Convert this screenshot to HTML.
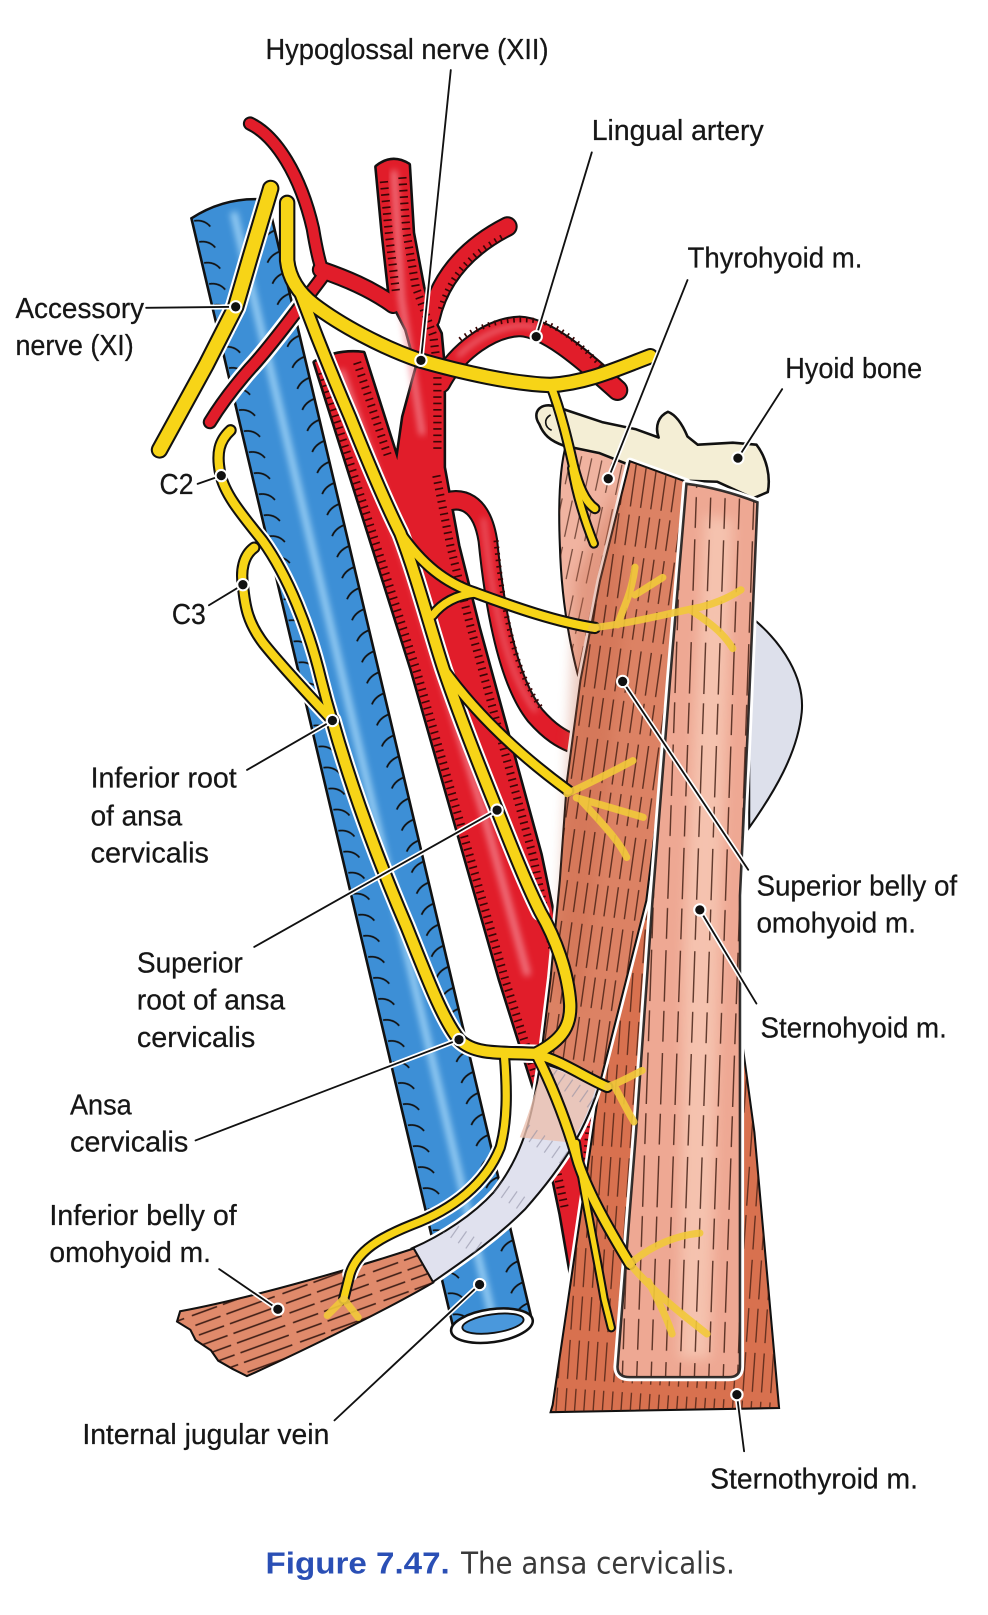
<!DOCTYPE html>
<html><head><meta charset="utf-8"><style>
html,body{margin:0;padding:0;background:#fff;}
svg{display:block;}
text{font-family:"Liberation Sans Narrow","Liberation Sans",sans-serif;font-size:28px;fill:#161616;stroke:#161616;stroke-width:0.25px;}
</style></head><body>
<svg width="988" height="1615" viewBox="0 0 960 1569" xmlns="http://www.w3.org/2000/svg">
<defs>
<filter id="bl" x="-20%" y="-20%" width="140%" height="140%"><feGaussianBlur stdDeviation="3"/></filter>
<filter id="bl2" x="-20%" y="-20%" width="140%" height="140%"><feGaussianBlur stdDeviation="6"/></filter>
<pattern id="pIJ" patternUnits="userSpaceOnUse" width="300" height="21" patternTransform="translate(186,212) rotate(-13.3)">
<path d="M2,3 q10,1 14,9" stroke="#111" stroke-width="1.7" fill="none"/>
<path d="M77,9 q-10,1 -15,8" stroke="#111" stroke-width="1.7" fill="none"/>
</pattern>
<pattern id="pTH" patternUnits="userSpaceOnUse" width="10" height="90" patternTransform="rotate(12)"><path d="M5,0V90" stroke="#3a170c" stroke-width="1.1" stroke-dasharray="36 10 30 14"/></pattern>
<pattern id="pSB" patternUnits="userSpaceOnUse" width="10" height="90" patternTransform="rotate(8)"><path d="M5,0V90" stroke="#3a170c" stroke-width="1.3" stroke-dasharray="42 8 30 10"/></pattern>
<pattern id="pSH" patternUnits="userSpaceOnUse" width="14" height="100" patternTransform="rotate(2)"><path d="M7,0V100" stroke="#3a170c" stroke-width="1.3" stroke-dasharray="50 9 30 11"/></pattern>
<pattern id="pST" patternUnits="userSpaceOnUse" width="9" height="90" patternTransform="rotate(4)"><path d="M4.5,0V90" stroke="#3a170c" stroke-width="1.2" stroke-dasharray="38 9 33 10"/></pattern>
<pattern id="pIB" patternUnits="userSpaceOnUse" width="10" height="90" patternTransform="rotate(70)"><path d="M5,0V90" stroke="#2a100a" stroke-width="1.6" stroke-dasharray="50 6 26 8"/></pattern>
<pattern id="pTD" patternUnits="userSpaceOnUse" width="9" height="60" patternTransform="rotate(35)"><path d="M4.5,0V60" stroke="#8a8aa0" stroke-width="1" stroke-dasharray="14 46"/></pattern>
</defs>

<!-- ===== Internal jugular vein (blue) ===== -->
<path d="M186,212 Q220,190 260,194 L517,1283 L440,1288 Z" fill="#3d8fd6" stroke="#111" stroke-width="2.5"/>
<path d="M227,206 L479,1282" stroke="#a6d8f8" stroke-width="7" opacity=".85" filter="url(#bl)"/>
<path d="M186,212 Q220,190 260,194 L517,1283 L440,1288 Z" fill="url(#pIJ)"/>
<ellipse cx="478" cy="1288" rx="40" ry="16" transform="rotate(-8 478 1288)" fill="#fff" stroke="#111" stroke-width="2.5"/>
<ellipse cx="479" cy="1286" rx="30" ry="9" transform="rotate(-8 479 1286)" fill="#4a98dc" stroke="#111" stroke-width="1.8"/>

<!-- ===== Arteries (red) ===== -->
<g stroke-linecap="round" fill="none">
<path d="M314,268 C290,300 260,340 243,358 C228,375 215,392 204,410" stroke="#fff" stroke-width="19"/>
<!-- outlines -->
<path d="M306,352 Q328,340 353,343 L386,447 L392,405 L405,357 L395,320 L379,289 L372,226 L366,162 Q381,150 397,160 L401,226 L411,279 L418,304 L428,324 L431,357 L431,454 L445,530 L465,610 L495,720 L525,830 L548,940 L583,1070 L575,1160 L556,1244 L545,1180 L520,1060 L486,952 L400,650 Z" fill="#111" stroke="#111" stroke-width="5" stroke-linejoin="round"/>
<path d="M243,120 C268,132 292,170 304,222 C307,240 310,255 314,265" stroke="#111" stroke-width="14"/>
<path d="M312,262 C335,270 360,280 382,296" stroke="#111" stroke-width="18"/>
<path d="M314,268 C290,300 260,340 243,358 C228,375 215,392 204,410" stroke="#111" stroke-width="14"/>
<path d="M428,372 C445,340 478,318 505,317 C530,318 562,345 600,379" stroke="#111" stroke-width="21"/>
<path d="M418,310 C426,275 448,243 493,220" stroke="#111" stroke-width="20"/>
<path d="M428,490 C448,480 468,488 474,525 C480,585 492,660 520,695 C535,712 546,718 556,722" stroke="#111" stroke-width="20"/>
<!-- fills -->
<path d="M306,352 Q328,340 353,343 L386,447 L392,405 L405,357 L395,320 L379,289 L372,226 L366,162 Q381,150 397,160 L401,226 L411,279 L418,304 L428,324 L431,357 L431,454 L445,530 L465,610 L495,720 L525,830 L548,940 L583,1070 L575,1160 L556,1244 L545,1180 L520,1060 L486,952 L400,650 Z" fill="#e11d2a" stroke="none"/>
<path d="M243,120 C268,132 292,170 304,222 C307,240 310,255 314,265" stroke="#e11d2a" stroke-width="10"/>
<path d="M312,262 C335,270 360,280 382,296" stroke="#e11d2a" stroke-width="14"/>
<path d="M314,268 C290,300 260,340 243,358 C228,375 215,392 204,410" stroke="#e11d2a" stroke-width="10"/>
<path d="M428,372 C445,340 478,318 505,317 C530,318 562,345 600,379" stroke="#e11d2a" stroke-width="17"/>
<path d="M418,310 C426,275 448,243 493,220" stroke="#e11d2a" stroke-width="16"/>
<path d="M428,490 C448,480 468,488 474,525 C480,585 492,660 520,695 C535,712 546,718 556,722" stroke="#e11d2a" stroke-width="16"/>
<!-- highlights -->
<path d="M332,362 L400,560 L470,790 L512,945" stroke="#f6929c" stroke-width="7" opacity=".75" filter="url(#bl)"/>
<path d="M383,168 L390,290 L410,420" stroke="#f6929c" stroke-width="6" opacity=".75" filter="url(#bl)"/>
<path d="M446,345 C470,322 500,312 520,318" stroke="#f6929c" stroke-width="4" opacity=".7" filter="url(#bl)"/>
<path d="M470,505 C478,580 490,650 520,690" stroke="#f6929c" stroke-width="4" opacity=".6" filter="url(#bl)"/>
<!-- hatch ticks -->
<g stroke="#3a0505" stroke-width="8" stroke-dasharray="1.6 4.6" stroke-linecap="butt">
<path d="M312,362 L405,652 L491,952 L525,1060 L549,1175"/>
<path d="M424,462 L438,532 L458,612 L488,722 L518,832 L541,942 L575,1068 L568,1160"/>
<path d="M373,176 L378,228 L385,286"/>
<path d="M391,172 L395,226 L404,279 L421,326 L425,358 L425,440"/>
<path d="M347,352 L378,446"/>
<path d="M447,330 C470,312 500,308 525,312 C550,320 570,340 596,368" stroke-width="5"/>
<path d="M428,300 C436,270 455,248 488,230" stroke-width="5"/>
<path d="M482,525 C488,585 498,650 526,688" stroke-width="5"/>
</g>
</g>

<!-- ===== Muscles ===== -->
<!-- thyrohyoid -->
<path d="M550,432 L612,446 L598,530 L585,610 L576,700 C560,660 546,600 544,530 C542,480 545,450 550,432 Z" fill="#f0b3a0" stroke="#111" stroke-width="2"/>
<path d="M550,432 L612,446 L598,530 L585,610 L576,700 C560,660 546,600 544,530 C542,480 545,450 550,432 Z" fill="url(#pTH)" opacity=".75"/>
<!-- hyoid bone -->
<path d="M524,412 C516,400 526,390 540,395 L585,410 L618,417 L640,425 C636,414 640,404 649,400 C657,403 663,412 668,424 L678,432 L712,430 L735,432 C745,445 749,463 746,478 L732,484 L697,468 L668,467 L620,455 L582,440 L548,433 C534,428 528,422 524,412 Z" fill="#f4eed5" stroke="#111" stroke-width="2.5" stroke-linejoin="round"/>
<path d="M535,403 C528,407 529,415 536,418" stroke="#111" stroke-width="1.6" fill="none"/>
<!-- sternothyroid -->
<path d="M630,870 L662,878 L718,990 L733,1100 L757,1368 L535,1372 L537,1365 L583,1052 Z" fill="#d8714f" stroke="#fff" stroke-width="7" stroke-linejoin="round"/>
<path d="M630,870 L662,878 L718,990 L733,1100 L757,1368 L535,1372 L537,1365 L583,1052 Z" fill="#d8714f" stroke="#111" stroke-width="2"/>
<path d="M630,870 L662,878 L718,990 L733,1100 L757,1368 L535,1372 L537,1365 L583,1052 Z" fill="url(#pST)" opacity=".8"/>
<!-- superior belly of omohyoid -->
<path d="M612,448 L667,468 L660,560 L651,661 L641,770 L628,875 L583,1052 L525,1032 L535,950 L544,855 L551,758 L564,661 L583,564 Z" fill="#dc8264" stroke="#fff" stroke-width="7" stroke-linejoin="round"/>
<path d="M612,448 L667,468 L660,560 L651,661 L641,770 L628,875 L583,1052 L525,1032 L535,950 L544,855 L551,758 L564,661 L583,564 Z" fill="#dc8264" stroke="#111" stroke-width="2"/>
<path d="M560,560 L600,470 L605,620 L565,980 L540,960 Z" fill="#c9684a" opacity=".35" filter="url(#bl2)"/>
<path d="M612,448 L667,468 L660,560 L651,661 L641,770 L628,875 L583,1052 L525,1032 L535,950 L544,855 L551,758 L564,661 L583,564 Z" fill="url(#pSB)" opacity=".8"/>
<!-- thyroid cartilage bulge -->
<path d="M728,598 C762,625 782,660 779,692 C775,732 752,770 728,804 Z" fill="#dde0eb" stroke="#111" stroke-width="2"/>
<!-- sternohyoid -->
<path d="M667,470 Q700,474 736,488 L727,700 L719,870 L719,1328 Q719,1338 708,1338 L612,1338 Q600,1338 600,1328 L618,1100 L634,875 L651,661 Z" fill="#eea893" stroke="#fff" stroke-width="8" stroke-linejoin="round"/>
<path d="M667,470 Q700,474 736,488 L727,700 L719,870 L719,1328 Q719,1338 708,1338 L612,1338 Q600,1338 600,1328 L618,1100 L634,875 L651,661 Z" fill="#eea893"/>
<path d="M685,500 L712,505 L700,900 L690,1320 L660,1320 L665,900 Z" fill="#f7c9b6" opacity=".8" filter="url(#bl2)"/>
<path d="M667,470 Q700,474 736,488 L727,700 L719,870 L719,1328 Q719,1338 708,1338 L612,1338 Q600,1338 600,1328 L618,1100 L634,875 L651,661 Z" fill="url(#pSH)" opacity=".85" stroke="#111" stroke-width="2.5"/>
<!-- intermediate tendon -->
<path d="M525,1032 L583,1052 C570,1095 550,1130 510,1175 C480,1205 450,1225 420,1246 L400,1213 C430,1200 460,1180 480,1158 C510,1120 518,1080 525,1032 Z" fill="#e0e1ee" stroke="#fff" stroke-width="7" stroke-linejoin="round"/>
<path d="M525,1032 L583,1052 C570,1095 550,1130 510,1175 C480,1205 450,1225 420,1246 L400,1213 C430,1200 460,1180 480,1158 C510,1120 518,1080 525,1032 Z" fill="#e0e1ee" stroke="#111" stroke-width="2"/>
<path d="M528,1035 L580,1053 C572,1080 565,1095 555,1110 L505,1105 C515,1080 520,1060 528,1035 Z" fill="#ebbfae" opacity=".8"/>
<path d="M525,1032 L583,1052 C570,1095 550,1130 510,1175 C480,1205 450,1225 420,1246 L400,1213 C430,1200 460,1180 480,1158 C510,1120 518,1080 525,1032 Z" fill="url(#pTD)" opacity=".7"/>
<!-- inferior belly -->
<path d="M402,1213 C350,1230 250,1260 175,1274 L172,1284 L185,1292 L190,1302 L205,1312 L212,1322 L226,1330 L240,1337 C300,1310 380,1270 421,1246 Z" fill="#e08a6b" stroke="#111" stroke-width="2"/>
<path d="M402,1213 C350,1230 250,1260 175,1274 L172,1284 L185,1292 L190,1302 L205,1312 L212,1322 L226,1330 L240,1337 C300,1310 380,1270 421,1246 Z" fill="url(#pIB)" opacity=".85"/>

<!-- ===== Nerves (yellow) ===== -->
<g fill="none" stroke-linecap="round" stroke-linejoin="round">
<g stroke="#fff">
<path d="M263,183 L243,250 L229,298 L200,355 L155,437" stroke-width="21"/>
<path d="M292,285 C305,320 325,370 340,405 C358,450 375,490 389,518 C405,560 418,610 431,650 C448,700 466,745 483,787 C498,825 512,860 525,886" stroke-width="18"/>
<path d="M224,418 C213,428 210,440 214,460 C218,480 235,500 255,525 C280,560 300,610 312,660 C317,680 320,690 323,700" stroke-width="16"/>
<path d="M247,532 C236,540 234,555 236,568 C238,590 241,605 256,625 C276,650 300,675 323,700" stroke-width="16"/>
<path d="M323,700 C340,760 365,830 395,900 C415,950 430,990 446,1010 C462,1026 490,1022 522,1024" stroke-width="18"/>
<path d="M490,1024 C493,1060 493,1090 486,1115 C472,1150 440,1175 400,1190 C370,1202 347,1215 340,1238" stroke-width="15"/>
</g>
<g stroke="#111">
<path d="M263,183 L243,250 L229,298 L200,355 L155,437" stroke-width="17"/>
<path d="M279,197 L279,253 C281,272 292,286 305,296 C330,315 370,337 408,350 C450,362 500,373 535,374 C570,372 600,358 632,346" stroke-width="16"/>
<path d="M292,285 C305,320 325,370 340,405 C358,450 375,490 389,518 C405,560 418,610 431,650 C448,700 466,745 483,787 C498,825 512,860 525,886 C540,912 552,945 554,975 C555,995 548,1010 520,1024" stroke-width="14"/>
<path d="M389,518 C410,548 432,566 462,576 C500,590 540,604 578,610" stroke-width="12"/>
<path d="M420,598 C430,585 445,578 462,576" stroke-width="11"/>
<path d="M431,650 C460,690 500,730 552,768" stroke-width="12"/>
<path d="M535,374 C545,400 552,430 557,452 C562,472 568,487 578,494" stroke-width="11"/>
<path d="M556,455 C560,480 568,505 577,528" stroke-width="10"/>
<path d="M224,418 C213,428 210,440 214,460 C218,480 235,500 255,525 C280,560 300,610 312,660 C317,680 320,690 323,700" stroke-width="12"/>
<path d="M247,532 C236,540 234,555 236,568 C238,590 241,605 256,625 C276,650 300,675 323,700" stroke-width="12"/>
<path d="M323,700 C340,760 365,830 395,900 C415,950 430,990 446,1010 C462,1026 490,1022 522,1024" stroke-width="14"/>
<path d="M490,1024 C493,1060 493,1090 486,1115 C472,1150 440,1175 400,1190 C370,1202 347,1215 340,1238 L334,1262" stroke-width="11"/>
<path d="M520,1024 C545,1030 565,1045 590,1056" stroke-width="12"/>
<path d="M522,1026 C538,1058 552,1095 562,1130 C572,1160 592,1195 612,1228" stroke-width="12"/>
<path d="M560,1110 C567,1160 578,1210 587,1262 L594,1290" stroke-width="9"/>
</g>
<g stroke="#f7d417">
<path d="M263,183 L243,250 L229,298 L200,355 L155,437" stroke-width="13"/>
<path d="M279,197 L279,253 C281,272 292,286 305,296 C330,315 370,337 408,350 C450,362 500,373 535,374 C570,372 600,358 632,346" stroke-width="12"/>
<path d="M292,285 C305,320 325,370 340,405 C358,450 375,490 389,518 C405,560 418,610 431,650 C448,700 466,745 483,787 C498,825 512,860 525,886 C540,912 552,945 554,975 C555,995 548,1010 520,1024" stroke-width="10"/>
<path d="M389,518 C410,548 432,566 462,576 C500,590 540,604 578,610" stroke-width="8"/>
<path d="M420,598 C430,585 445,578 462,576" stroke-width="7"/>
<path d="M431,650 C460,690 500,730 552,768" stroke-width="8"/>
<path d="M535,374 C545,400 552,430 557,452 C562,472 568,487 578,494" stroke-width="7"/>
<path d="M556,455 C560,480 568,505 577,528" stroke-width="6"/>
<path d="M224,418 C213,428 210,440 214,460 C218,480 235,500 255,525 C280,560 300,610 312,660 C317,680 320,690 323,700" stroke-width="8"/>
<path d="M247,532 C236,540 234,555 236,568 C238,590 241,605 256,625 C276,650 300,675 323,700" stroke-width="8"/>
<path d="M323,700 C340,760 365,830 395,900 C415,950 430,990 446,1010 C462,1026 490,1022 522,1024" stroke-width="10"/>
<path d="M490,1024 C493,1060 493,1090 486,1115 C472,1150 440,1175 400,1190 C370,1202 347,1215 340,1238 L334,1262" stroke-width="7"/>
<path d="M520,1024 C545,1030 565,1045 590,1056" stroke-width="8"/>
<path d="M522,1026 C538,1058 552,1095 562,1130 C572,1160 592,1195 612,1228" stroke-width="8"/>
<path d="M560,1110 C567,1160 578,1210 587,1262 L594,1290" stroke-width="5"/>
</g>
<!-- branches within muscles -->
<g stroke="#f2c93a" stroke-width="7" opacity=".9">
<path d="M575,610 C610,606 640,598 680,590 C700,585 712,578 720,573"/>
<path d="M600,607 C606,590 614,575 617,551"/>
<path d="M617,578 L644,561"/>
<path d="M670,592 C690,605 703,615 712,630"/>
<path d="M551,771 C575,760 598,748 615,739"/>
<path d="M560,775 C585,782 605,788 625,794"/>
<path d="M565,778 C585,800 600,815 609,833"/>
<path d="M590,1056 C602,1052 612,1046 624,1040"/>
<path d="M598,1057 C605,1070 610,1080 616,1090"/>
<path d="M612,1228 C635,1208 660,1200 680,1198"/>
<path d="M612,1228 C635,1255 660,1275 687,1296"/>
<path d="M630,1245 C640,1265 648,1280 653,1296"/>
<path d="M334,1262 L318,1278"/>
<path d="M334,1262 L348,1280"/>
</g>
</g>

<!-- ===== Leader lines ===== -->
<g stroke-linecap="round">
<g stroke="#fff" stroke-width="5">
<path d="M438,68 L409,350"/><path d="M575,148 L521,327"/><path d="M668,272 L591,465"/>
<path d="M760,378 L717,445"/><path d="M142,299 L229,298"/><path d="M192,470 L215,462"/>
<path d="M203,588 L236,568"/><path d="M240,748 L323,700"/><path d="M247,920 L483,787"/>
<path d="M190,1108 L446,1010"/><path d="M213,1233 L270,1272"/><path d="M325,1380 L466,1248"/>
<path d="M727,845 L605,662"/><path d="M735,975 L680,884"/><path d="M723,1410 L716,1355"/>
</g>
<g stroke="#111" stroke-width="1.8">
<path d="M438,68 L409,350"/><path d="M575,148 L521,327"/><path d="M668,272 L591,465"/>
<path d="M760,378 L717,445"/><path d="M142,299 L229,298"/><path d="M192,470 L215,462"/>
<path d="M203,588 L236,568"/><path d="M240,748 L323,700"/><path d="M247,920 L483,787"/>
<path d="M190,1108 L446,1010"/><path d="M213,1233 L270,1272"/><path d="M325,1380 L466,1248"/>
<path d="M727,845 L605,662"/><path d="M735,975 L680,884"/><path d="M723,1410 L716,1355"/>
</g>
<g fill="#111" stroke="#fff" stroke-width="2">
<circle cx="409" cy="350" r="5.5"/><circle cx="521" cy="327" r="5.5"/><circle cx="591" cy="465" r="5.5"/>
<circle cx="717" cy="445" r="5.5"/><circle cx="229" cy="298" r="5.5"/><circle cx="215" cy="462" r="5.5"/>
<circle cx="236" cy="568" r="5.5"/><circle cx="323" cy="700" r="5.5"/><circle cx="483" cy="787" r="5.5"/>
<circle cx="446" cy="1010" r="5.5"/><circle cx="270" cy="1272" r="5.5"/><circle cx="466" cy="1248" r="5.5"/>
<circle cx="605" cy="662" r="5.5"/><circle cx="680" cy="884" r="5.5"/><circle cx="716" cy="1355" r="5.5"/>
</g>
</g>

<!-- ===== Labels ===== -->
<g>
<text x="258" y="57" textLength="275" lengthAdjust="spacingAndGlyphs">Hypoglossal nerve (XII)</text>
<text x="575" y="136" textLength="167" lengthAdjust="spacingAndGlyphs">Lingual artery</text>
<text x="668" y="260" textLength="170" lengthAdjust="spacingAndGlyphs">Thyrohyoid m.</text>
<text x="763" y="367" textLength="133" lengthAdjust="spacingAndGlyphs">Hyoid bone</text>
<text x="15" y="309" textLength="125" lengthAdjust="spacingAndGlyphs">Accessory</text>
<text x="15" y="345" textLength="115" lengthAdjust="spacingAndGlyphs">nerve (XI)</text>
<text x="155" y="480" textLength="33" lengthAdjust="spacingAndGlyphs">C2</text>
<text x="167" y="606" textLength="33" lengthAdjust="spacingAndGlyphs">C3</text>
<text x="88" y="765" textLength="142" lengthAdjust="spacingAndGlyphs">Inferior root</text>
<text x="88" y="802" textLength="89" lengthAdjust="spacingAndGlyphs">of ansa</text>
<text x="88" y="838" textLength="115" lengthAdjust="spacingAndGlyphs">cervicalis</text>
<text x="133" y="945" textLength="103" lengthAdjust="spacingAndGlyphs">Superior</text>
<text x="133" y="981" textLength="144" lengthAdjust="spacingAndGlyphs">root of ansa</text>
<text x="133" y="1017" textLength="115" lengthAdjust="spacingAndGlyphs">cervicalis</text>
<text x="68" y="1083" textLength="60" lengthAdjust="spacingAndGlyphs">Ansa</text>
<text x="68" y="1119" textLength="115" lengthAdjust="spacingAndGlyphs">cervicalis</text>
<text x="48" y="1190" textLength="182" lengthAdjust="spacingAndGlyphs">Inferior belly of</text>
<text x="48" y="1226" textLength="157" lengthAdjust="spacingAndGlyphs">omohyoid m.</text>
<text x="80" y="1403" textLength="240" lengthAdjust="spacingAndGlyphs">Internal jugular vein</text>
<text x="735" y="870" textLength="195" lengthAdjust="spacingAndGlyphs">Superior belly of</text>
<text x="735" y="906" textLength="155" lengthAdjust="spacingAndGlyphs">omohyoid m.</text>
<text x="739" y="1008" textLength="181" lengthAdjust="spacingAndGlyphs">Sternohyoid m.</text>
<text x="690" y="1446" textLength="202" lengthAdjust="spacingAndGlyphs">Sternothyroid m.</text>
</g>
<text x="258" y="1529" textLength="179" lengthAdjust="spacingAndGlyphs" style="font-family:'Liberation Sans',sans-serif;font-size:30px;font-weight:bold;fill:#2a4fb5;stroke:none;">Figure 7.47.</text>
<text x="448" y="1529" textLength="266" lengthAdjust="spacingAndGlyphs" style="font-family:'DejaVu Sans','Liberation Sans',sans-serif;font-size:29px;fill:#3a3a3a;stroke:none;">The ansa cervicalis.</text>
</svg>
</body></html>
